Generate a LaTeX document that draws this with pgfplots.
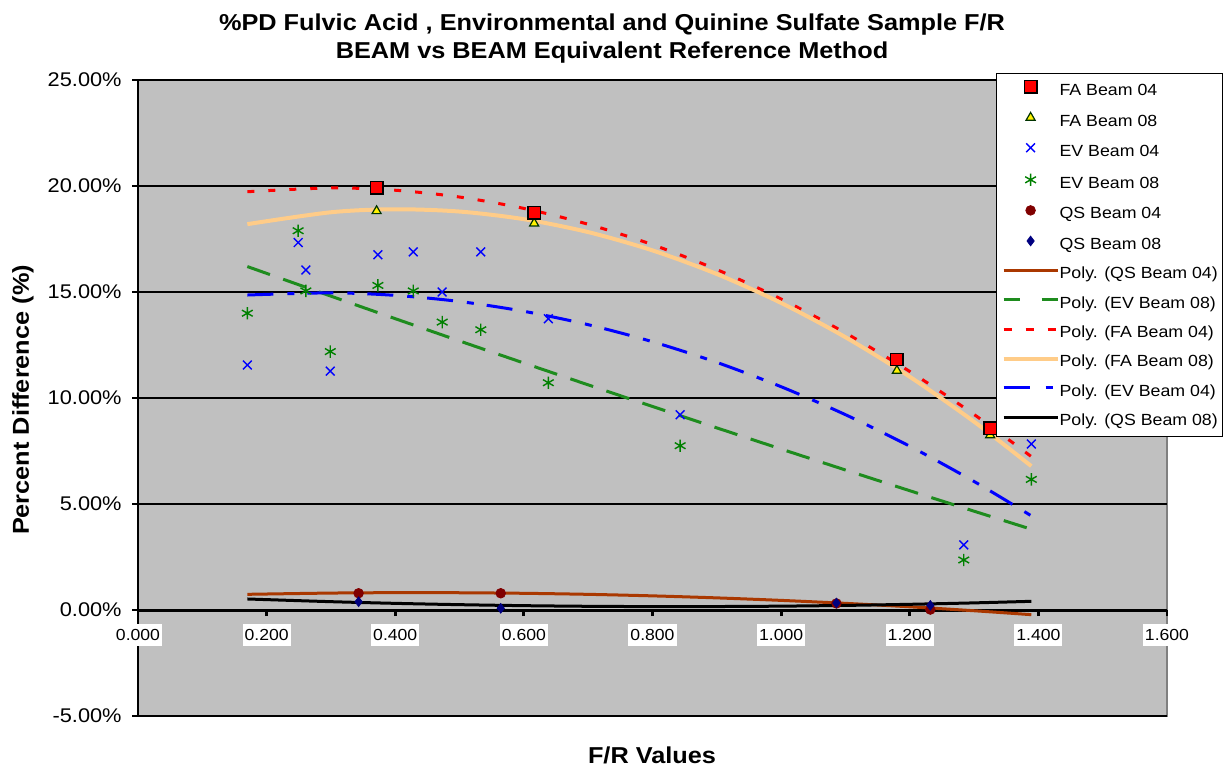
\documentclass[border=0pt]{standalone}
\usepackage{fontspec}
\setmainfont{Liberation Sans}[FakeStretch=1.1]
\usepackage{pgfplots}
\pgfplotsset{compat=1.18}
\definecolor{plotgray}{RGB}{192,192,192}
\definecolor{bordergray}{RGB}{128,128,128}
\definecolor{evgreen}{RGB}{0,128,0}
\definecolor{trgreen}{RGB}{30,140,30}
\definecolor{faorange}{RGB}{255,204,136}
\definecolor{qsbrown}{RGB}{170,56,0}
\definecolor{qsred}{RGB}{128,0,0}
\definecolor{qsnavy}{RGB}{0,0,128}
\definecolor{tridark}{RGB}{0,51,0}
\begin{document}
\begin{tikzpicture}
\begin{axis}[
  at={(69pt,26pt)}, anchor=south west,
  scale only axis, width=514.5pt, height=318pt,
  xmin=0, xmax=1.6, ymin=-5, ymax=25,
  axis x line=middle, axis y line=left, axis line style={-},
  x axis line style={line width=1.5pt, black},
  y axis line style={line width=0.8pt, black},
  axis background/.style={fill=plotgray, draw=bordergray, line width=0.8pt},
  xtick={0,0.2,0.4,0.6,0.8,1.0,1.2,1.4,1.6},
  ytick={-5,0,5,10,15,20,25},
  tick align=outside, xtick align=outside, major tick length=3pt,
  hide obscured x ticks=false,
  tick style={black, line width=0.8pt},
  xtick style={line width=1.4pt},
  /pgf/number format/assume math mode=true,
  xticklabel={\pgfmathprintnumber[fixed,fixed zerofill,precision=3]{\tick}},
  yticklabel={\pgfmathprintnumber[fixed,fixed zerofill,precision=2]{\tick}\%},
  xticklabel style={font=\fontsize{8}{9}\selectfont, fill=white, inner xsep=1pt, inner ysep=2.5pt, yshift=-4pt},
  yticklabel style={font=\fontsize{9.9}{11}\selectfont, inner sep=0pt, xshift=-5pt},
  ymajorgrids, major grid style={black, line width=0.6pt},
  legend style={at={(0.834,1.011)}, anchor=north west, draw=black, fill=white,
    font=\fontsize{8.07}{9}\selectfont, inner xsep=2.5pt, inner ysep=3.5pt,
    row sep=6.7pt, nodes={inner sep=0pt, text height=6pt, text depth=2pt},
    /tikz/every even column/.append style={column sep=2pt}},
  legend cell align=left,
  legend image code/.code={\draw[mark repeat=2,mark phase=2,#1] plot coordinates {(0pt,2.2pt) (13.5pt,2.2pt) (27pt,2.2pt)};},
]
% FA Beam 08 markers (under the trend lines)
\addplot[forget plot, only marks, mark=triangle*, mark size=2.6pt, mark options={fill=yellow, draw=tridark, line width=0.6pt}]
  coordinates {(0.371,18.82)(0.616,18.24)(1.180,11.29)(1.325,8.25)};
% trend lines
\addplot[forget plot, smooth, qsbrown, line width=1.5pt]
  coordinates {(0.17,0.740)(0.3,0.799)(0.4,0.818)(0.5,0.814)(0.6,0.788)(0.7,0.739)(0.8,0.667)(0.9,0.572)(1.0,0.454)(1.1,0.314)(1.2,0.151)(1.3,-0.035)(1.389,-0.220)};
\addplot[forget plot, smooth, trgreen, line width=1.5pt, dash pattern=on 12pt off 7pt]
  coordinates {(0.17,16.201)(0.3,14.805)(0.4,13.742)(0.5,12.691)(0.6,11.650)(0.7,10.620)(0.8,9.600)(0.9,8.591)(1.0,7.593)(1.1,6.605)(1.2,5.628)(1.3,4.661)(1.389,3.810)};
\addplot[forget plot, smooth, red, line width=1.5pt, dash pattern=on 3.5pt off 7pt]
  coordinates {(0.17,19.730)(0.3,19.909)(0.4,19.800)(0.5,19.479)(0.6,18.943)(0.7,18.195)(0.8,17.233)(0.9,16.058)(1.0,14.669)(1.1,13.067)(1.2,11.252)(1.3,9.223)(1.389,7.237)};
\addplot[forget plot, smooth, faorange, line width=2pt]
  coordinates {(0.17,18.200)(0.3,18.761)(0.4,18.903)(0.5,18.795)(0.6,18.435)(0.7,17.825)(0.8,16.962)(0.9,15.848)(1.0,14.484)(1.1,12.868)(1.2,11.002)(1.3,8.883)(1.389,6.787)};
\addplot[forget plot, smooth, blue, line width=1.5pt, dash pattern=on 13pt off 7pt on 3.5pt off 6.5pt]
  coordinates {(0.17,14.858)(0.3,14.960)(0.4,14.841)(0.5,14.552)(0.6,14.090)(0.7,13.458)(0.8,12.654)(0.9,11.679)(1.0,10.532)(1.1,9.214)(1.2,7.725)(1.3,6.064)(1.389,4.442)};
\addplot[forget plot, smooth, black, line width=1.5pt]
  coordinates {(0.17,0.520)(0.3,0.393)(0.4,0.314)(0.5,0.252)(0.6,0.205)(0.7,0.175)(0.8,0.161)(0.9,0.164)(1.0,0.182)(1.1,0.217)(1.2,0.269)(1.3,0.336)(1.389,0.410)};
% markers
\addplot[forget plot, only marks, mark=square*, mark size=3.1pt, mark options={fill=red, draw=black, line width=0.7pt}]
  coordinates {(0.371,19.92)(0.616,18.74)(1.180,11.82)(1.325,8.57)};
\addplot[forget plot, only marks, mark=x, mark size=3.1pt, mark options={blue, line width=0.7pt}]
  coordinates {(0.170,11.56)(0.249,17.33)(0.261,16.04)(0.299,11.27)(0.373,16.76)(0.428,16.89)(0.473,15.00)(0.533,16.89)(0.638,13.74)(0.843,9.21)(1.284,3.07)(1.389,7.83)};
\addplot[forget plot, only marks, mark=asterisk, mark size=3.1pt, mark options={evgreen, line width=0.7pt}]
  coordinates {(0.170,14.00)(0.249,17.89)(0.261,15.05)(0.299,12.19)(0.373,15.31)(0.428,15.05)(0.473,13.58)(0.533,13.22)(0.638,10.72)(0.843,7.75)(1.284,2.36)(1.389,6.16)};
\addplot[forget plot, only marks, mark=*, mark size=2.4pt, mark options={fill=qsred, draw=qsred}]
  coordinates {(0.343,0.79)(0.564,0.79)(1.086,0.31)(1.232,0.02)};
\addplot[forget plot, only marks, mark=diamond*, mark size=2.4pt, mark options={fill=qsnavy, draw=qsnavy}]
  coordinates {(0.343,0.39)(0.564,0.08)(1.086,0.33)(1.232,0.22)};
% legend
\addlegendimage{only marks, mark=square*, mark size=3.1pt, mark options={fill=red, draw=black, line width=0.7pt}}
\addlegendentry{FA Beam 04}
\addlegendimage{only marks, mark=triangle*, mark size=2.6pt, mark options={fill=yellow, draw=tridark, line width=0.6pt}}
\addlegendentry{FA Beam 08}
\addlegendimage{only marks, mark=x, mark size=3.1pt, mark options={blue, line width=0.7pt}}
\addlegendentry{EV Beam 04}
\addlegendimage{only marks, mark=asterisk, mark size=3.1pt, mark options={evgreen, line width=0.7pt}}
\addlegendentry{EV Beam 08}
\addlegendimage{only marks, mark=*, mark size=2.4pt, mark options={fill=qsred, draw=qsred}}
\addlegendentry{QS Beam 04}
\addlegendimage{only marks, mark=diamond*, mark size=2.4pt, mark options={fill=qsnavy, draw=qsnavy}}
\addlegendentry{QS Beam 08}
\addlegendimage{qsbrown, line width=1.5pt}
\addlegendentry{Poly. (QS Beam 04)}
\addlegendimage{trgreen, line width=1.5pt, dash pattern=on 8pt off 11pt}
\addlegendentry{Poly. (EV Beam 08)}
\addlegendimage{red, line width=1.5pt, dash pattern=on 4pt off 7pt}
\addlegendentry{Poly. (FA Beam 04)}
\addlegendimage{faorange, line width=2pt}
\addlegendentry{Poly. (FA Beam 08)}
\addlegendimage{blue, line width=1.5pt, dash pattern=on 13pt off 8pt on 3.5pt off 6.5pt}
\addlegendentry{Poly. (EV Beam 04)}
\addlegendimage{black, line width=1.5pt}
\addlegendentry{Poly. (QS Beam 08)}
\end{axis}
\pgfresetboundingbox
\path[use as bounding box] (0,0) rectangle (612.5pt,384pt);
\node[align=center, font=\fontsize{11.5}{14}\selectfont\bfseries] at (306pt,364.5pt)
  {\%PD Fulvic Acid , Environmental and Quinine Sulfate Sample F/R\\BEAM vs BEAM Equivalent Reference Method};
\node[rotate=90, font=\fontsize{11.5}{14}\selectfont\bfseries] at (11.5pt,184pt) {Percent Difference (\%)};
\node[font=\fontsize{11.5}{14}\selectfont\bfseries] at (326pt,6.5pt) {F/R Values};
\end{tikzpicture}
\end{document}
